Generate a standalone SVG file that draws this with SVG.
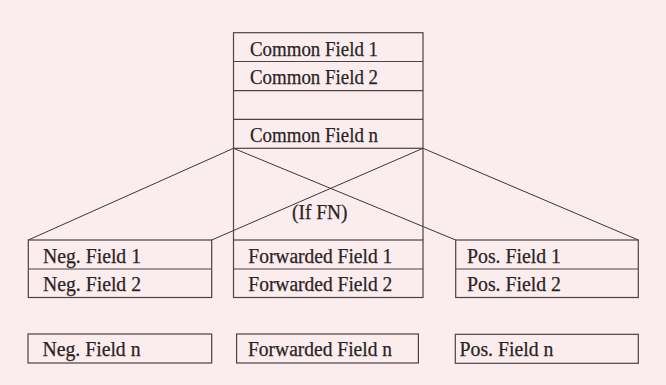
<svg xmlns="http://www.w3.org/2000/svg" width="666" height="385" viewBox="0 0 666 385">
<style>
.bx{fill:none;stroke:#4a4446;stroke-width:1.2}
.ln{fill:none;stroke:#3c3638;stroke-width:1}
text{font-family:"Liberation Serif","Times New Roman",serif;font-size:20px;fill:#2a2426;stroke:#2a2426;stroke-width:0.25}
</style>
<rect width="666" height="385" fill="#fbeced"/>
<g id="common">
<rect class="bx" x="233.5" y="32.7" width="189.5" height="115.6"/>
<line class="bx" x1="233.5" y1="61.5" x2="423" y2="61.5"/>
<line class="bx" x1="233.5" y1="90.7" x2="423" y2="90.7"/>
<line class="bx" x1="233.5" y1="119.3" x2="423" y2="119.3"/>
<text x="250" y="55.5" textLength="128" lengthAdjust="spacingAndGlyphs">Common Field 1</text>
<text x="250" y="84" textLength="128" lengthAdjust="spacingAndGlyphs">Common Field 2</text>
<text x="250" y="141.5" textLength="128" lengthAdjust="spacingAndGlyphs">Common Field n</text>
</g>
<g id="connectors">
<line class="ln" x1="233.5" y1="148.3" x2="28.3" y2="240"/>
<line class="ln" x1="233.5" y1="148.3" x2="455.7" y2="240"/>
<line class="ln" x1="423" y1="148.3" x2="211.7" y2="240"/>
<line class="ln" x1="423" y1="148.3" x2="638.3" y2="240"/>
<line class="bx" x1="233.5" y1="148.3" x2="233.5" y2="240"/>
<line class="bx" x1="423" y1="148.3" x2="423" y2="240"/>
</g>
<g id="cond">
<text x="292" y="219" textLength="55.5" lengthAdjust="spacingAndGlyphs">(If FN)</text>
</g>
<g id="neg">
<rect class="bx" x="28.3" y="240" width="183.4" height="57.5"/>
<line class="bx" x1="28.3" y1="269" x2="211.7" y2="269"/>
<text x="43" y="262.5" textLength="98" lengthAdjust="spacingAndGlyphs">Neg. Field 1</text>
<text x="43" y="291" textLength="98" lengthAdjust="spacingAndGlyphs">Neg. Field 2</text>
</g>
<g id="fwd">
<rect class="bx" x="233.5" y="240" width="189.5" height="57.5"/>
<line class="bx" x1="233.5" y1="269" x2="423" y2="269"/>
<text x="248.3" y="262.5" textLength="144" lengthAdjust="spacingAndGlyphs">Forwarded Field 1</text>
<text x="248.3" y="291" textLength="144" lengthAdjust="spacingAndGlyphs">Forwarded Field 2</text>
</g>
<g id="pos">
<rect class="bx" x="455.7" y="240" width="182.6" height="57.5"/>
<line class="bx" x1="455.7" y1="269" x2="638.3" y2="269"/>
<text x="467" y="262.5" textLength="94" lengthAdjust="spacingAndGlyphs">Pos. Field 1</text>
<text x="467" y="291" textLength="94" lengthAdjust="spacingAndGlyphs">Pos. Field 2</text>
</g>
<g id="negn">
<rect class="bx" x="28" y="334" width="183.7" height="29"/>
<text x="42.5" y="356" textLength="98" lengthAdjust="spacingAndGlyphs">Neg. Field n</text>
</g>
<g id="fwdn">
<rect class="bx" x="236.6" y="334" width="181.8" height="29"/>
<text x="248" y="356" textLength="144" lengthAdjust="spacingAndGlyphs">Forwarded Field n</text>
</g>
<g id="posn">
<rect class="bx" x="455.3" y="334.3" width="183" height="29"/>
<text x="459.5" y="356" textLength="94" lengthAdjust="spacingAndGlyphs">Pos. Field n</text>
</g>
</svg>
